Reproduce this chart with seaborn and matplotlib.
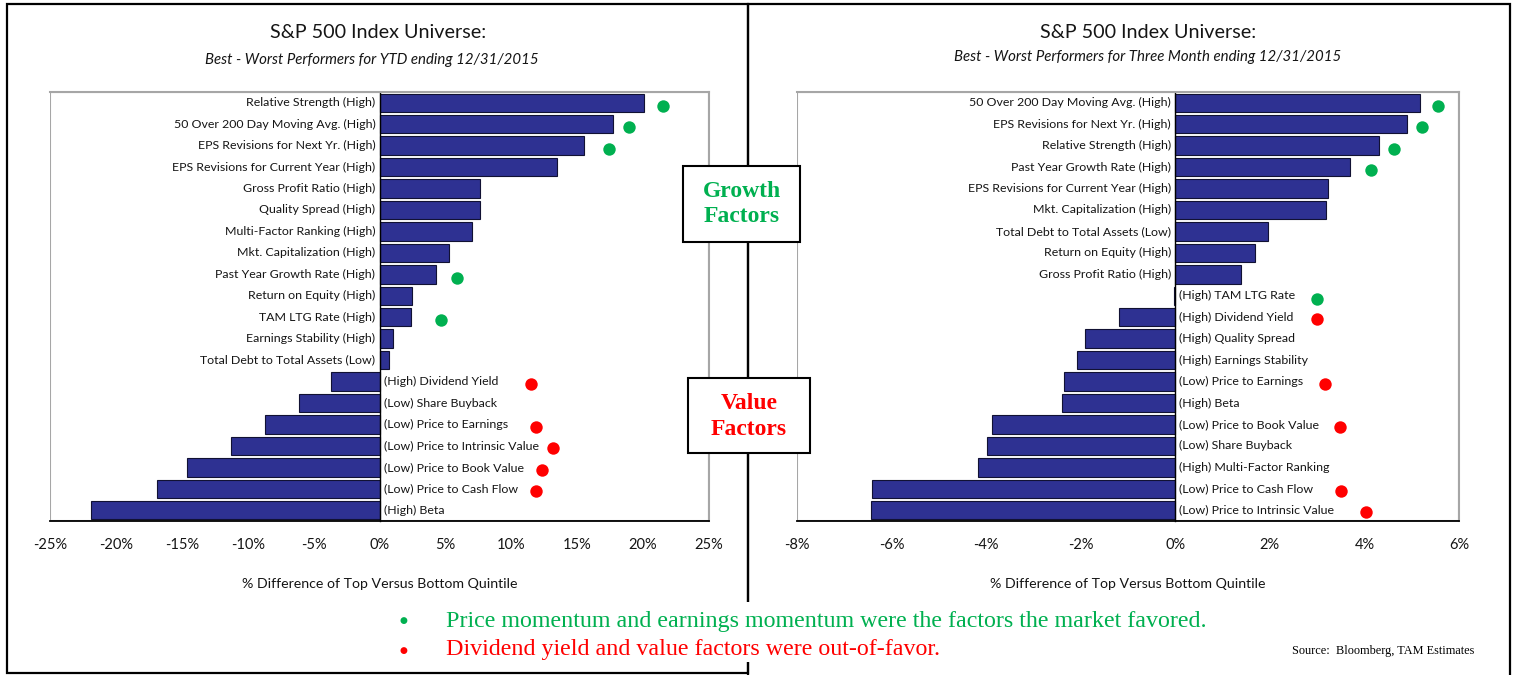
import numpy as np
import pandas as pd
import matplotlib
matplotlib.use("Agg")
import matplotlib.pyplot as plt
import seaborn as sns
from matplotlib.patches import Rectangle

# YTD panel (left)
ytd_factors = [
    "Relative Strength (High)", "50 Over 200 Day Moving Avg. (High)",
    "EPS Revisions for Next Yr. (High)", "EPS Revisions for Current Year (High)",
    "Gross Profit Ratio (High)", "Quality Spread (High)",
    "Multi-Factor Ranking (High)", "Mkt. Capitalization (High)",
    "Past Year Growth Rate (High)", "Return on Equity (High)",
    "TAM LTG Rate (High)", "Earnings Stability (High)",
    "Total Debt to Total Assets (Low)", "(High) Dividend Yield",
    "(Low) Share Buyback", "(Low) Price to Earnings",
    "(Low) Price to Intrinsic Value", "(Low) Price to Book Value",
    "(Low) Price to Cash Flow", "(High) Beta",
]
ytd_values = [20.1, 17.7, 15.5, 13.5, 7.6, 7.6, 7.0, 5.3, 4.3, 2.5, 2.4, 1.0, 0.7,
              -3.7, -6.1, -8.7, -11.3, -14.6, -16.9, -21.9]
ytd_green = ["Relative Strength (High)", "50 Over 200 Day Moving Avg. (High)",
             "EPS Revisions for Next Yr. (High)", "Past Year Growth Rate (High)",
             "TAM LTG Rate (High)"]
ytd_green_x = [21.5, 18.9, 17.4, 5.9, 4.7]
ytd_red = ["(High) Dividend Yield", "(Low) Price to Earnings",
           "(Low) Price to Intrinsic Value", "(Low) Price to Book Value",
           "(Low) Price to Cash Flow"]
ytd_red_x = [11.5, 11.9, 13.2, 12.3, 11.9]

# Three month panel (right)
qtr_factors = [
    "50 Over 200 Day Moving Avg. (High)", "EPS Revisions for Next Yr. (High)",
    "Relative Strength (High)", "Past Year Growth Rate (High)",
    "EPS Revisions for Current Year (High)", "Mkt. Capitalization (High)",
    "Total Debt to Total Assets (Low)", "Return on Equity (High)",
    "Gross Profit Ratio (High)", "(High) TAM LTG Rate",
    "(High) Dividend Yield", "(High) Quality Spread",
    "(High) Earnings Stability", "(Low) Price to Earnings",
    "(High) Beta", "(Low) Price to Book Value",
    "(Low) Share Buyback", "(High) Multi-Factor Ranking",
    "(Low) Price to Cash Flow", "(Low) Price to Intrinsic Value",
]
qtr_values = [5.17, 4.9, 4.3, 3.7, 3.23, 3.18, 1.97, 1.68, 1.39, -0.03,
              -1.18, -1.9, -2.07, -2.36, -2.4, -3.87, -3.99, -4.17, -6.41, -6.44]
qtr_green = ["50 Over 200 Day Moving Avg. (High)", "EPS Revisions for Next Yr. (High)",
             "Relative Strength (High)", "Past Year Growth Rate (High)",
             "(High) TAM LTG Rate"]
qtr_green_x = [5.55, 5.22, 4.63, 4.13, 3.0]
qtr_red = ["(High) Dividend Yield", "(Low) Price to Earnings",
           "(Low) Price to Book Value", "(Low) Price to Cash Flow",
           "(Low) Price to Intrinsic Value"]
qtr_red_x = [3.0, 3.17, 3.49, 3.5, 4.04]

ytd_ticks = [-25, -20, -15, -10, -5, 0, 5, 10, 15, 20, 25]
qtr_ticks = [-8, -6, -4, -2, 0, 2, 4, 6]

BAR = "#2e3192"
GREEN = "#00b050"
RED = "#ff0000"
TXT = "#151515"
W, H = 1514, 675

sns.set_theme(style="white")
plt.rcParams["font.family"] = ["Lato", "DejaVu Sans"]
SERIF = ["Liberation Serif", "DejaVu Serif"]


def draw_panel(ax, factors, values, green, green_x, red, red_x, ticks):
    df = pd.DataFrame({"factor": factors, "value": values})
    sns.barplot(data=df, x="value", y="factor", orient="h", color=BAR,
                saturation=1, width=0.86, edgecolor="#111133", linewidth=0.8, ax=ax)
    n = len(factors)
    ax.set_xlim(ticks[0], ticks[-1])
    ax.set_ylim(n - 0.5, -0.5)
    ax.set_xticks(ticks)
    ax.set_xticklabels([f"{t}%" for t in ticks], fontsize=10.5, color=TXT)
    ax.set_yticks([])
    ax.set_yticks(np.arange(-0.5, n, 1), minor=True)
    ax.tick_params(axis="y", which="minor", length=4, width=0.8, direction="out",
                   color="black", labelleft=False)
    ax.tick_params(axis="x", length=6, width=1, direction="out", color="black", pad=6)
    ax.set_ylabel("")
    ax.set_xlabel("% Difference of Top Versus Bottom Quintile", fontsize=10.2,
                  color=TXT, labelpad=19)
    ax.spines["left"].set_position(("data", 0))
    ax.spines["left"].set_color("black")
    ax.spines["left"].set_linewidth(1)
    ax.spines["bottom"].set_color("black")
    ax.spines["bottom"].set_linewidth(1.3)
    for s in ["top", "right"]:
        ax.spines[s].set_color("#a6a6a6")
        ax.spines[s].set_linewidth(1.5)
    ax.add_patch(Rectangle((0, 0), 1, 1, transform=ax.transAxes, fill=False,
                           edgecolor="#a6a6a6", linewidth=1.5, zorder=0.5))

    for i, (name, v) in enumerate(zip(factors, values)):
        if v >= 0:
            ax.annotate(name, (0, i), xytext=(-3, 0), textcoords="offset points",
                        ha="right", va="center", fontsize=8.9, color=TXT)
        else:
            ax.annotate(name, (0, i), xytext=(3, 0), textcoords="offset points",
                        ha="left", va="center", fontsize=8.9, color=TXT)

    ax.scatter(green_x, [factors.index(f) + 0.15 for f in green], s=80,
               color=GREEN, zorder=5, linewidths=0)
    ax.scatter(red_x, [factors.index(f) + 0.1 for f in red], s=80,
               color=RED, zorder=5, linewidths=0)


fig = plt.figure(figsize=(W / 100, H / 100), dpi=100)
ax1 = fig.add_axes([50 / W, 1 - 521 / H, 659 / W, 429 / H])
ax2 = fig.add_axes([797 / W, 1 - 521 / H, 662 / W, 429 / H])

draw_panel(ax1, ytd_factors, ytd_values, ytd_green, ytd_green_x, ytd_red, ytd_red_x, ytd_ticks)
draw_panel(ax2, qtr_factors, qtr_values, qtr_green, qtr_green_x, qtr_red, qtr_red_x, qtr_ticks)

# titles
fig.text(378 / W, 1 - 33 / H, "S&P 500 Index Universe:", ha="center", va="center",
         fontsize=14.2, color=TXT)
fig.text(372 / W, 1 - 60 / H, "Best - Worst Performers for YTD ending 12/31/2015",
         ha="center", va="center", fontsize=10.8, style="italic", color=TXT)
fig.text(1148 / W, 1 - 33 / H, "S&P 500 Index Universe:", ha="center", va="center",
         fontsize=14.2, color=TXT)
fig.text(1148 / W, 1 - 57 / H, "Best - Worst Performers for Three Month ending 12/31/2015",
         ha="center", va="center", fontsize=10.8, style="italic", color=TXT)

# panel frames
fig.patches.append(Rectangle((7 / W, 2 / H), 741 / W, 669 / H, transform=fig.transFigure,
                             fill=False, edgecolor="black", linewidth=1.6, zorder=2))
fig.patches.append(Rectangle((748 / W, -5 / H), 762 / W, 676 / H, transform=fig.transFigure,
                             fill=False, edgecolor="black", linewidth=1.6, zorder=2))

# factor boxes
fig.patches.append(Rectangle((683 / W, 1 - 242 / H), 117 / W, 76 / H, transform=fig.transFigure,
                             facecolor="white", edgecolor="black", linewidth=1.5, zorder=3))
fig.text(742 / W, 1 - 204 / H, "Growth\nFactors", ha="center", va="center", fontsize=17,
         fontweight="bold", color=GREEN, family=SERIF, linespacing=1.3, zorder=4)
fig.patches.append(Rectangle((688 / W, 1 - 453 / H), 122 / W, 75 / H, transform=fig.transFigure,
                             facecolor="white", edgecolor="black", linewidth=1.5, zorder=3))
fig.text(749 / W, 1 - 416.5 / H, "Value\nFactors", ha="center", va="center", fontsize=17,
         fontweight="bold", color=RED, family=SERIF, linespacing=1.3, zorder=4)

# bottom notes
fig.patches.append(Rectangle((330 / W, 1 - 662 / H), 1175 / W, 60 / H, transform=fig.transFigure,
                             facecolor="white", edgecolor="none", zorder=3))
fig.text(403 / W, 1 - 621 / H, "\u25cf", ha="center", va="center", fontsize=6.5,
         color=GREEN, family=["DejaVu Sans"], zorder=4)
fig.text(446 / W, 1 - 621 / H,
         "Price momentum and earnings momentum were the factors the market favored.",
         ha="left", va="center", fontsize=17.3, color=GREEN, family=SERIF, zorder=4)
fig.text(403 / W, 1 - 650 / H, "\u25cf", ha="center", va="center", fontsize=6.5,
         color=RED, family=["DejaVu Sans"], zorder=4)
fig.text(446 / W, 1 - 650 / H, "Dividend yield and value factors were out-of-favor.",
         ha="left", va="center", fontsize=17.3, color=RED, family=SERIF, zorder=4)
fig.text(1292 / W, 1 - 651 / H, "Source:  Bloomberg, TAM Estimates", ha="left", va="center",
         fontsize=8.8, color="black", family=SERIF, zorder=4)

fig.savefig("out.png", dpi=100)
